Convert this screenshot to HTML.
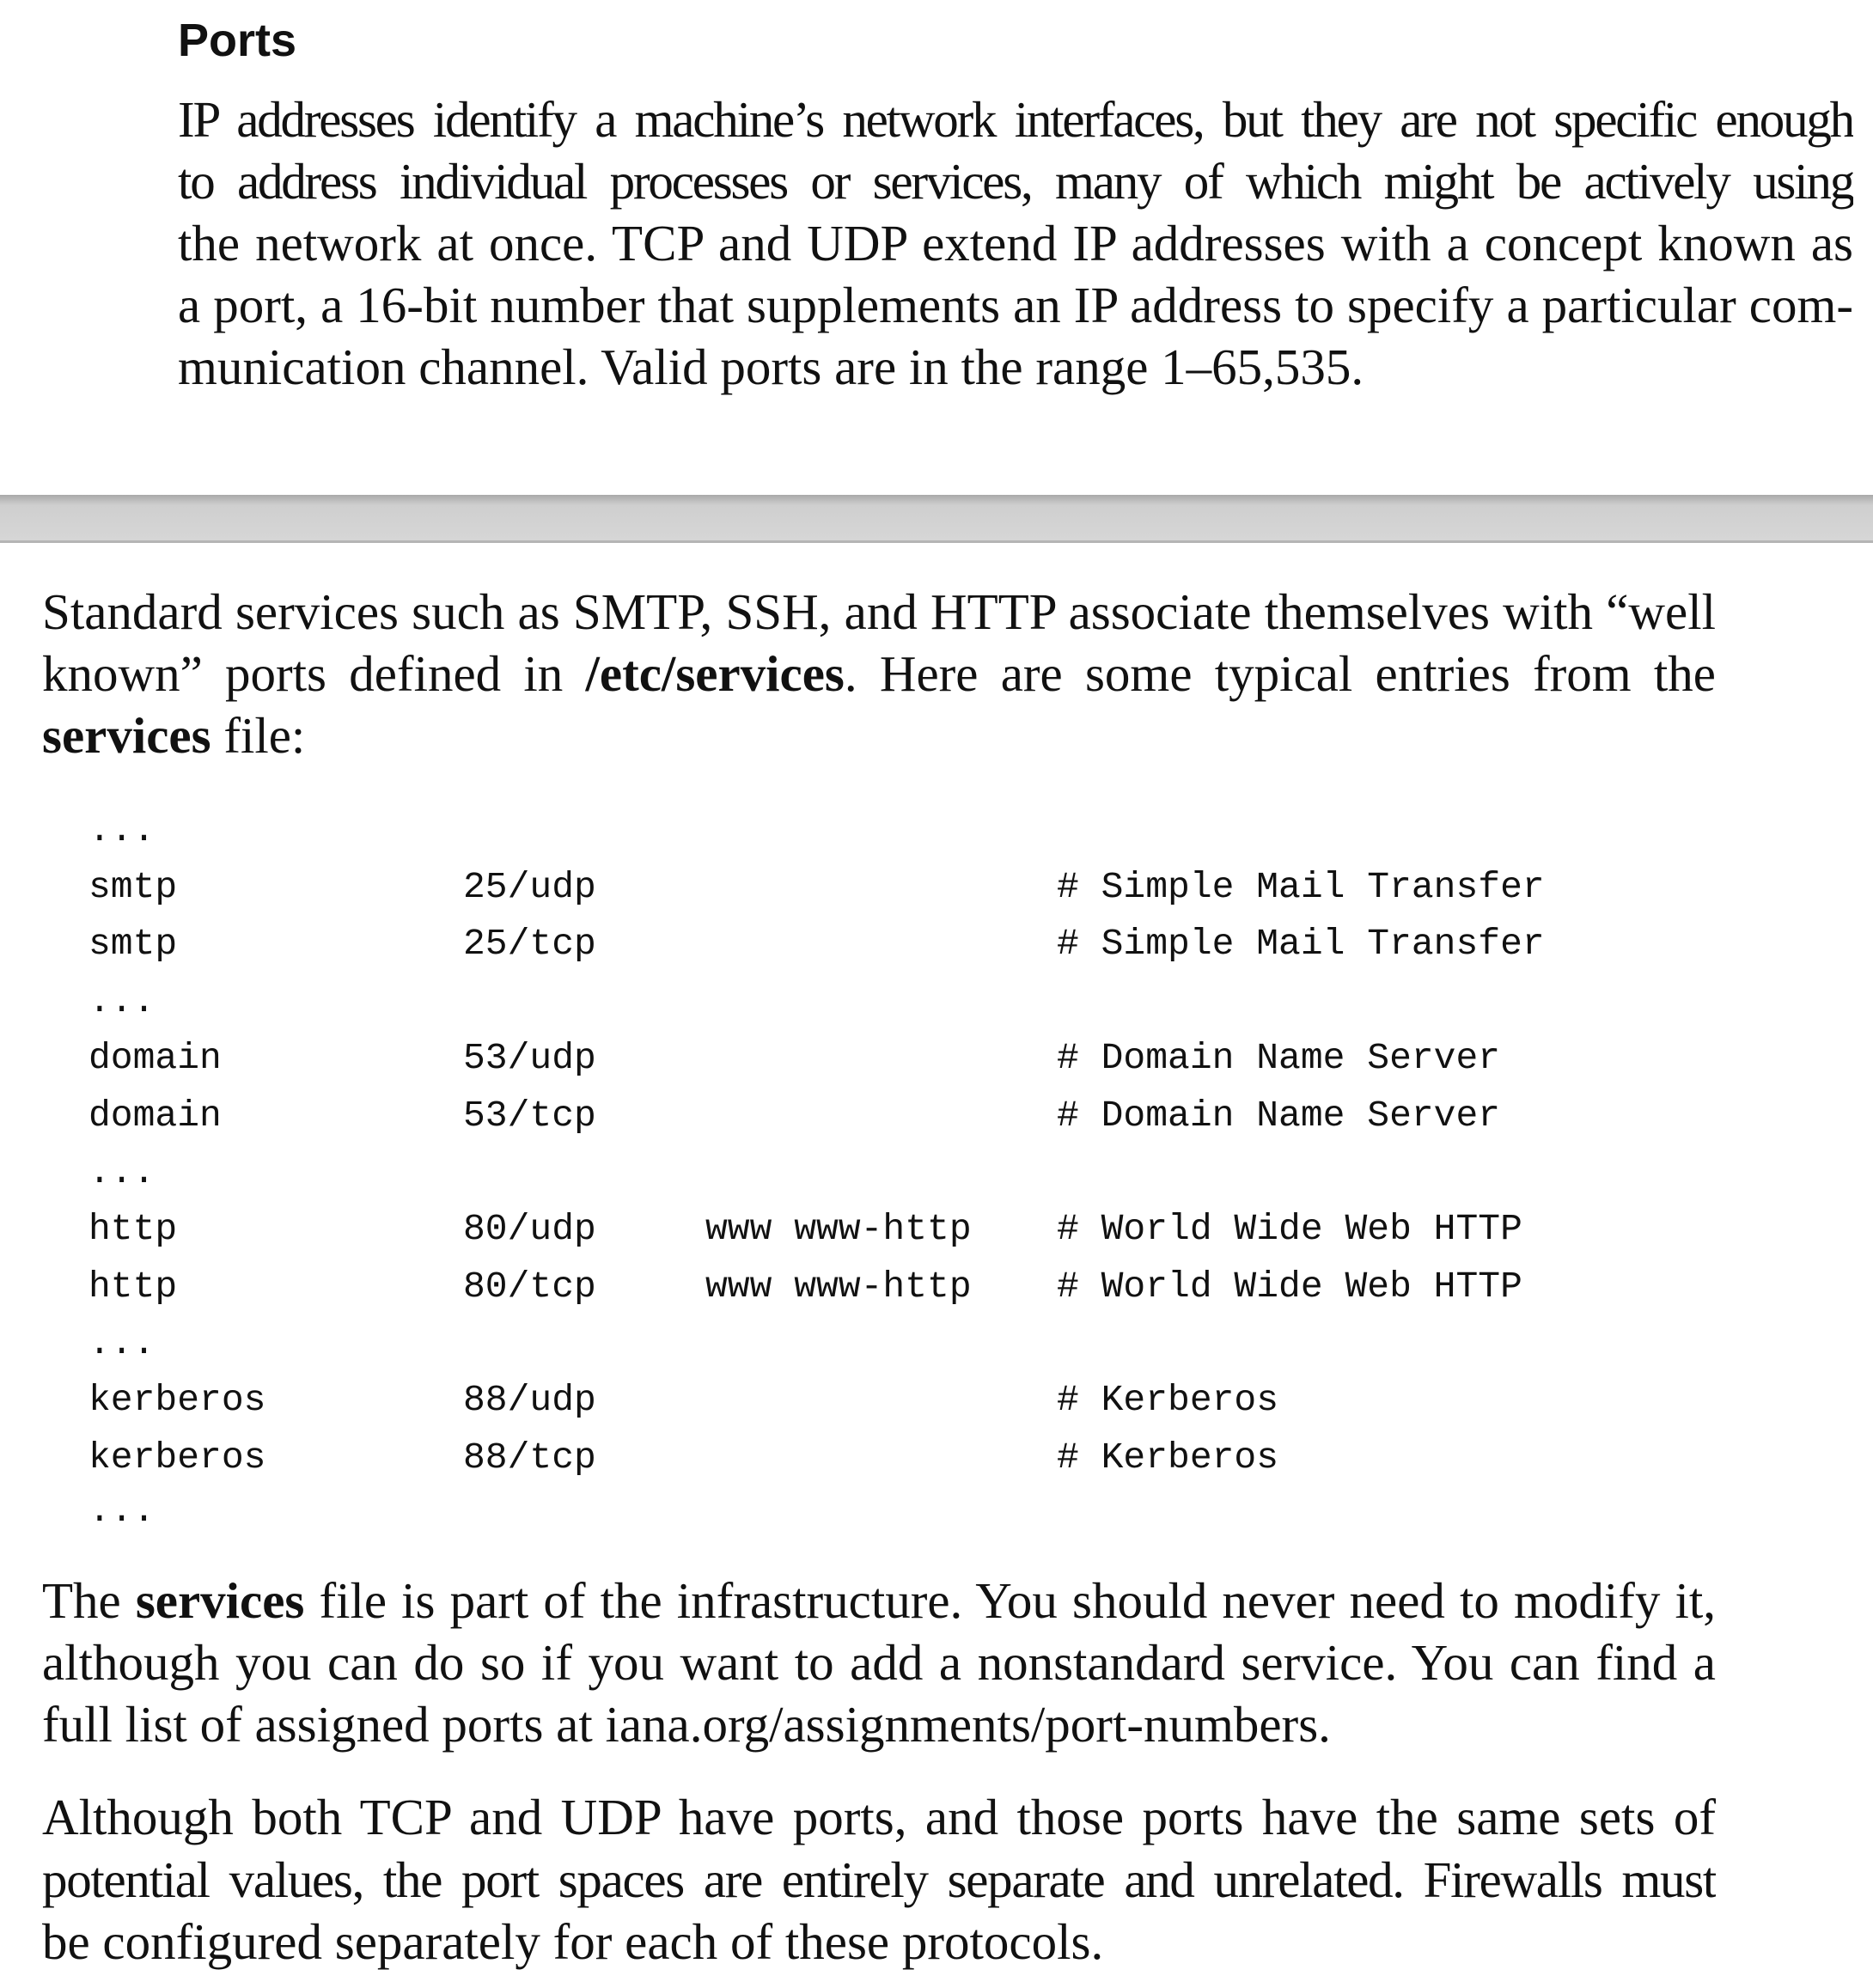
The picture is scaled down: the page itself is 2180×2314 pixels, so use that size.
<!DOCTYPE html>
<html><head><meta charset="utf-8"><style>
html,body{margin:0;padding:0;background:#fff;}
body{width:2180px;height:2314px;position:relative;overflow:hidden;}
.l{position:absolute;font-family:"Liberation Serif",serif;font-size:59px;line-height:72px;height:72px;overflow:hidden;color:#111;white-space:nowrap;}
.j{text-align:justify;text-align-last:justify;white-space:normal;}
.a{left:207px;width:1950px;}
.b{left:49px;width:1948px;}
.t2{letter-spacing:-2.2px;}
.t1{letter-spacing:-1.3px;}
.m{position:absolute;font-family:"Liberation Mono",monospace;font-size:43px;line-height:66px;color:#111;white-space:pre;}
h1{position:absolute;left:207px;top:20px;margin:0;font-family:"Liberation Sans",sans-serif;font-weight:bold;font-size:54px;line-height:54px;color:#111;}
#band{position:absolute;left:0;top:576px;width:2180px;height:56px;background:linear-gradient(#a9a9a9 0px,#cfcfcf 12px,#d6d6d6 100%);border-bottom:3px solid #b5b5b5;box-sizing:border-box;}
</style></head><body>
<h1>Ports</h1>
<div>
<div class="l a j t2" style="top:103px">IP addresses identify a machine’s network interfaces, but they are not specific enough</div>
<div class="l a j t2" style="top:175px">to address individual processes or services, many of which might be actively using</div>
<div class="l a j" style="top:247px">the network at once. TCP and UDP extend IP addresses with a concept known as</div>
<div class="l a j" style="top:319px">a port, a 16-bit number that supplements an IP address to specify a particular com-</div>
<div class="l a" style="top:391px">munication channel. Valid ports are in the range 1–65,535.</div>
</div>
<div id="band"></div>
<div>
<div class="l b j" style="top:676px">Standard services such as SMTP, SSH, and HTTP associate themselves with “well</div>
<div class="l b j" style="top:748px">known” ports defined in <b>/etc/services</b>. Here are some typical entries from the</div>
<div class="l b" style="top:820px"><b>services</b> file:</div>
</div>
<div>
<div class="m" style="left:103px;top:934px">...</div>
<div class="m" style="left:103px;top:1000px">smtp</div><div class="m" style="left:539px;top:1000px">25/udp</div><div class="m" style="left:1230px;top:1000px"># Simple Mail Transfer</div>
<div class="m" style="left:103px;top:1066px">smtp</div><div class="m" style="left:539px;top:1066px">25/tcp</div><div class="m" style="left:1230px;top:1066px"># Simple Mail Transfer</div>
<div class="m" style="left:103px;top:1133px">...</div>
<div class="m" style="left:103px;top:1199px">domain</div><div class="m" style="left:539px;top:1199px">53/udp</div><div class="m" style="left:1230px;top:1199px"># Domain Name Server</div>
<div class="m" style="left:103px;top:1266px">domain</div><div class="m" style="left:539px;top:1266px">53/tcp</div><div class="m" style="left:1230px;top:1266px"># Domain Name Server</div>
<div class="m" style="left:103px;top:1332px">...</div>
<div class="m" style="left:103px;top:1398px">http</div><div class="m" style="left:539px;top:1398px">80/udp</div><div class="m" style="left:821px;top:1398px">www www-http</div><div class="m" style="left:1230px;top:1398px"># World Wide Web HTTP</div>
<div class="m" style="left:103px;top:1465px">http</div><div class="m" style="left:539px;top:1465px">80/tcp</div><div class="m" style="left:821px;top:1465px">www www-http</div><div class="m" style="left:1230px;top:1465px"># World Wide Web HTTP</div>
<div class="m" style="left:103px;top:1531px">...</div>
<div class="m" style="left:103px;top:1597px">kerberos</div><div class="m" style="left:539px;top:1597px">88/udp</div><div class="m" style="left:1230px;top:1597px"># Kerberos</div>
<div class="m" style="left:103px;top:1664px">kerberos</div><div class="m" style="left:539px;top:1664px">88/tcp</div><div class="m" style="left:1230px;top:1664px"># Kerberos</div>
<div class="m" style="left:103px;top:1726px">...</div>
</div>
<div>
<div class="l b j" style="top:1827px">The <b>services</b> file is part of the infrastructure. You should never need to modify it,</div>
<div class="l b j" style="top:1899px">although you can do so if you want to add a nonstandard service. You can find a</div>
<div class="l b" style="top:1971px">full list of assigned ports at iana.org/assignments/port-numbers.</div>
</div>
<div>
<div class="l b j" style="top:2079px">Although both TCP and UDP have ports, and those ports have the same sets of</div>
<div class="l b j t1" style="top:2152px">potential values, the port spaces are entirely separate and unrelated. Firewalls must</div>
<div class="l b" style="top:2224px">be configured separately for each of these protocols.</div>
</div>
</body></html>
